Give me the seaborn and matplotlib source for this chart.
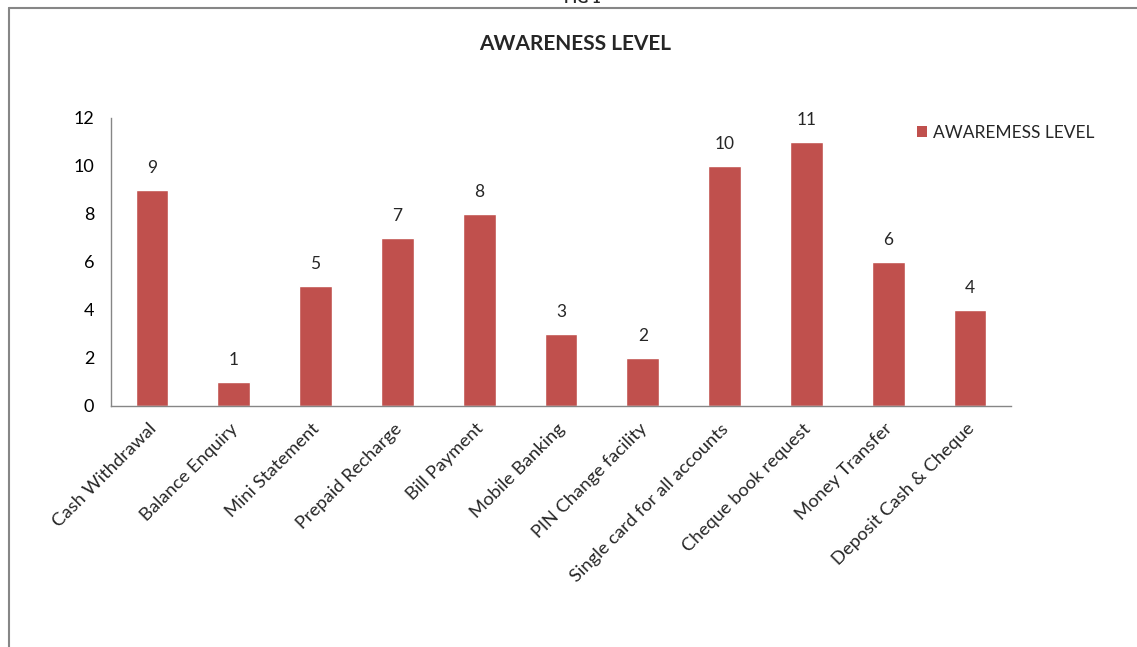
import matplotlib
matplotlib.use("Agg")
import matplotlib.pyplot as plt
import matplotlib.transforms as mtransforms
import seaborn as sns
import pandas as pd
import numpy as np
from matplotlib.lines import Line2D
from matplotlib.patches import Patch

categories = ["Cash Withdrawal", "Balance Enquiry", "Mini Statement", "Prepaid Recharge",
              "Bill Payment", "Mobile Banking", "PIN Change facility",
              "Single card for all accounts", "Cheque book request", "Money Transfer",
              "Deposit Cash & Cheque"]
values = [9, 1, 5, 7, 8, 3, 2, 10, 11, 6, 4]
yticks = [0, 2, 4, 6, 8, 10, 12]
series_name = "AWAREMESS LEVEL"
title = "AWARENESS LEVEL"

sns.set_theme(style="white")
plt.rcParams['font.family'] = ['Lato', 'DejaVu Sans']

df = pd.DataFrame({"cat": categories, "val": values})

fig = plt.figure(figsize=(11.37, 6.47), dpi=100)
W, H = 1137, 647
ax = fig.add_axes([111 / W, 1 - 406 / H, 900 / W, (406 - 118) / H])
bar_color = "#C0504D"
sns.barplot(data=df, x="cat", y="val", color=bar_color, width=0.4, ax=ax, saturation=1)

ax.set_ylim(0, 12)
ax.set_xlim(-0.5, len(categories) - 0.5)
ax.set_yticks(yticks)
ax.set_yticklabels([str(t) for t in yticks], fontsize=13)
ax.set_xlabel("")
ax.set_ylabel("")
ax.set_xticks(range(len(categories)))
ax.set_xticklabels(categories, rotation=45, ha="right", rotation_mode="anchor", fontsize=13.2)
ax.tick_params(axis="x", which="major", length=0, pad=10.5)
offset = mtransforms.ScaledTranslation(-4 / 100, 0, fig.dpi_scale_trans)
for lab in ax.get_xticklabels():
    lab.set_transform(lab.get_transform() + offset)
ax.set_xticks(np.arange(-0.5, len(categories), 1.0), minor=True)
ax.tick_params(axis="x", which="minor", length=5, color="#868686", width=1, direction="out")
ax.tick_params(axis="y", length=5, color="#868686", width=1, direction="out", pad=7)
ax.tick_params(axis="y", colors="#868686", labelcolor="black")

for s in ["top", "right"]:
    ax.spines[s].set_visible(False)
for s in ["left", "bottom"]:
    ax.spines[s].set_color("#868686")
    ax.spines[s].set_linewidth(1)

for c in ax.containers:
    ax.bar_label(c, labels=[str(v) for v in values], padding=10, fontsize=12.5)

fig.text(575 / W, 1 - 44 / H, title, ha="center", va="center", fontsize=15, fontweight="bold")
fig.text(582 / W, 1 + 1 / H, "FIG 1", ha="center", va="center", fontsize=11, fontweight="bold")

handles = [Patch(facecolor=bar_color, edgecolor="none")]
fig.legend(handles, [series_name], loc="center left", bbox_to_anchor=(917 / W, 1 - 133 / H),
           frameon=False, fontsize=12.5, handlelength=0.6, handleheight=0.6, handletextpad=0.3,
           borderaxespad=0, borderpad=0)

# chart frame
fig.add_artist(Line2D([9 / W, 9 / W], [0, 1 - 8 / H], transform=fig.transFigure, color="#868686", lw=1.5))
fig.add_artist(Line2D([9 / W, 1], [1 - 8 / H, 1 - 8 / H], transform=fig.transFigure, color="#868686", lw=1.5))

fig.savefig("out.png", dpi=100, facecolor="white")
